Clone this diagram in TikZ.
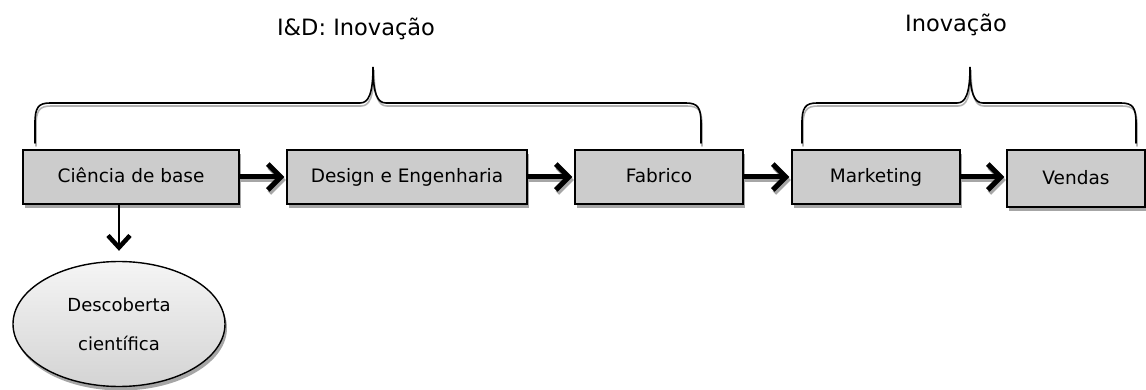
\documentclass[tikz,border=0pt]{standalone}
\usepackage{fontspec}
\setmainfont{DejaVu Sans}
\usetikzlibrary{arrows.meta,shapes.geometric,shadows,calc}

\tikzset{
  stage/.style={draw=black, line width=1.4pt, fill=black!20,
    minimum height=54pt, inner sep=0pt, text height=15.5pt, text depth=3.5pt,
    font=\fontsize{18.5}{22}\selectfont,
    drop shadow={shadow xshift=2pt, shadow yshift=-4pt, fill=black!35, opacity=1}},
  result/.style={ellipse, draw=black, line width=1.4pt,
    top color=black!4, bottom color=black!17,
    minimum width=212pt, minimum height=125pt, inner sep=0pt, align=center,
    font=\fontsize{18}{39}\selectfont,
    drop shadow={shadow xshift=2pt, shadow yshift=-4pt, fill=black!35, opacity=1}},
  flow/.style={line width=5pt, -{Straight Barb[length=13pt,width=26pt]}},
  flowshadow/.style={flow, draw=black!35, transform canvas={shift={(1.5pt,-3pt)}}},
  drop/.style={line width=1.6pt, -{Straight Barb[length=12pt,width=22pt,line width=4.5pt]}},
  brace/.style={line width=1.6pt, line cap=round},
  braceshadow/.style={brace, draw=black!30, transform canvas={shift={(1pt,-3pt)}}},
  title/.style={font=\fontsize{22.5}{26}\selectfont}
}

\begin{document}
\begin{tikzpicture}[x=1pt, y=-1pt]
\useasboundingbox (0,0) rectangle (1146,390);

% process stages
\node[stage, minimum width=216pt] (base) at (131,177) {Ciência de base};
\node[stage, minimum width=240pt] (design) at (407,177) {Design e Engenharia};
\node[stage, minimum width=168pt] (fab) at (659,177) {Fabrico};
\node[stage, minimum width=168pt] (mkt) at (876,177) {Marketing};
\node[stage, minimum width=138pt, minimum height=57pt] (sales) at (1076,178.5) {Vendas};

% outcome of basic science
\node[result] (disc) at (119,324) {Descoberta\\científica};

% flow arrows between stages (shadow first, then arrow)
\foreach \a/\b in {base/design, design/fab, fab/mkt, mkt/sales}{
  \draw[flowshadow] (\a.east |- 0,177) -- ([xshift=-2pt]\b.west |- 0,177);
  \draw[flow] (\a.east |- 0,177) -- ([xshift=-2pt]\b.west |- 0,177);
}

% arrow down to the discovery
\draw[drop, shorten >=10pt] (base.south -| disc.north) -- (disc.north);

% group braces
\coordinate (rdL) at (35,143);
\coordinate (rdT) at (373,67);
\coordinate (rdR) at (701,143);
\coordinate (inL) at (802,143);
\coordinate (inT) at (970,67);
\coordinate (inR) at (1136,143);

\foreach \s in {braceshadow, brace}{
  \draw[\s] (rdL) -- ++(0,-20) .. controls ++(0,-15) and ++(-12,0) .. (50,103)
    -- (360,103) .. controls ++(8,0) and ++(0,28) .. (rdT)
    .. controls ++(0,28) and ++(-8,0) .. (386,103)
    -- (686,103) .. controls ++(12,0) and ++(0,-15) .. ($(rdR)+(0,-20)$) -- (rdR);
  \draw[\s] (inL) -- ++(0,-20) .. controls ++(0,-15) and ++(-12,0) .. (817,103)
    -- (957,103) .. controls ++(8,0) and ++(0,28) .. (inT)
    .. controls ++(0,28) and ++(-8,0) .. (983,103)
    -- (1121,103) .. controls ++(12,0) and ++(0,-15) .. ($(inR)+(0,-20)$) -- (inR);
}

% group titles
\node[title] (rdtitle) at (356,29) {I\&D: Inovação};
\node[title] (intitle) at (956,25) {Inovação};
\end{tikzpicture}
\end{document}
